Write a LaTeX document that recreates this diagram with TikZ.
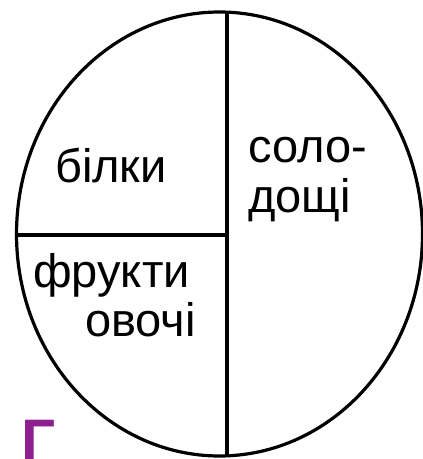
\documentclass[tikz,border=0pt]{standalone}
\usepackage{fontspec}
\setmainfont{Liberation Sans}
\definecolor{gpurple}{HTML}{8E1F8E}
\begin{document}
\begin{tikzpicture}[x=1pt,y=1pt,
  outline/.style={line width=3.2pt, black},
  lbl/.style={inner sep=0pt, anchor=base west, font=\fontsize{47}{52}\selectfont},
  bigletter/.style={inner sep=0pt, anchor=base west, text=gpurple, font=\fontsize{60}{60}\selectfont\bfseries}]
\useasboundingbox (0,0) rectangle (423,459);
\clip (0,0) rectangle (423,459);
\fill[white] (0,0) rectangle (423,459);
\coordinate (c) at (219.5,225);
\coordinate (vt) at (227,446.8);
\coordinate (vb) at (227,3.2);
\coordinate (hl) at (16.6,224);
\coordinate (hr) at (227,224);
\draw[outline] (c) ellipse [x radius=203, y radius=222];
\draw[outline] (vt) -- (vb);
\draw[outline] (hl) -- (hr);
\node[lbl] (bilky) at (55,276) {білки};
\node[lbl] (solo) at (248,296) {соло-};
\node[lbl] (doshchi) at (248,246) {дощі};
\node[lbl] (frukty) at (33,171) {фрукти};
\node[lbl] (ovochi) at (85,122) {овочі};
\node[bigletter] (gamma) at (21,-2) {Г};
\end{tikzpicture}
\end{document}
